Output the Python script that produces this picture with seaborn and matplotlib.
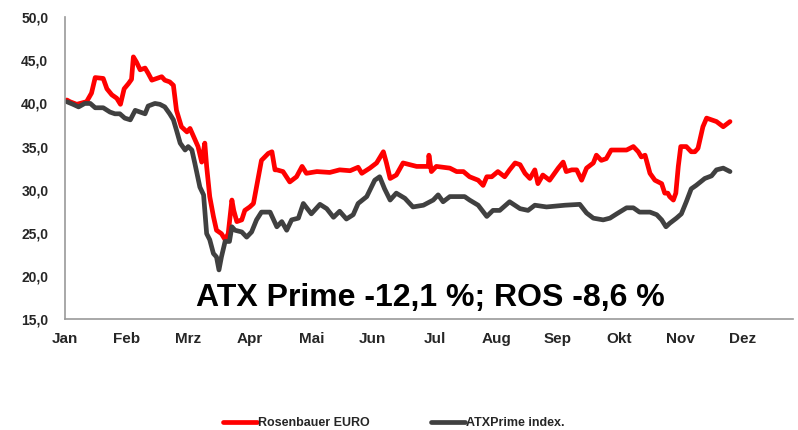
import pandas as pd
import seaborn as sns
import matplotlib.pyplot as plt
from matplotlib.ticker import FuncFormatter

# month labels (x positions are fractional months since 1 Jan)
months = ['Jan', 'Feb', 'Mrz', 'Apr', 'Mai', 'Jun', 'Jul', 'Aug', 'Sep', 'Okt', 'Nov', 'Dez']

# Rosenbauer EURO
ros_x = [0.03, 0.08, 0.19, 0.35, 0.43, 0.49, 0.62, 0.68, 0.76, 0.84, 0.90, 0.96,
         1.03, 1.08, 1.11, 1.16, 1.22, 1.30, 1.35, 1.41, 1.49, 1.57, 1.62, 1.70,
         1.76, 1.81, 1.89, 1.98, 2.03, 2.08, 2.16, 2.22, 2.27, 2.30, 2.35, 2.41,
         2.46, 2.54, 2.60, 2.65, 2.71, 2.74, 2.79, 2.87, 2.92, 3.00, 3.06, 3.14,
         3.19, 3.30, 3.36, 3.41, 3.44, 3.54, 3.65, 3.76, 3.85, 3.92, 4.09, 4.30,
         4.46, 4.63, 4.76, 4.82, 4.95, 5.06, 5.17, 5.22, 5.28, 5.38, 5.49, 5.71,
         5.90, 5.91, 5.95, 6.03, 6.25, 6.36, 6.47, 6.57, 6.71, 6.79, 6.85, 6.93,
         7.03, 7.14, 7.22, 7.31, 7.39, 7.47, 7.55, 7.63, 7.68, 7.76, 7.87, 8.01,
         8.09, 8.14, 8.23, 8.31, 8.39, 8.47, 8.58, 8.63, 8.71, 8.79, 8.87, 9.01,
         9.12, 9.23, 9.31, 9.36, 9.42, 9.50, 9.58, 9.69, 9.74, 9.79, 9.82, 9.88,
         9.92, 9.96, 10.00, 10.09, 10.17, 10.23, 10.28, 10.36, 10.42, 10.50, 10.58,
         10.69, 10.80]
ros_y = [40.4, 40.2, 39.9, 40.2, 41.2, 43.0, 42.9, 41.7, 41.0, 40.6, 39.9, 41.7,
         42.3, 42.8, 45.4, 44.8, 43.9, 44.1, 43.5, 42.7, 42.9, 43.1, 42.7, 42.5,
         42.1, 39.2, 37.3, 36.7, 37.1, 36.3, 35.0, 33.2, 35.4, 32.7, 29.2, 26.9,
         25.3, 24.9, 24.2, 24.9, 28.8, 27.6, 26.3, 26.5, 27.6, 28.0, 28.4, 31.5,
         33.4, 34.2, 34.4, 32.3, 32.3, 32.1, 30.9, 31.5, 32.7, 31.9, 32.1, 32.0,
         32.3, 32.2, 32.6, 31.9, 32.5, 33.1, 34.4, 33.1, 31.3, 31.7, 33.1, 32.7,
         32.7, 34.0, 32.1, 32.7, 32.5, 32.1, 32.1, 31.5, 31.1, 30.5, 31.5, 31.5,
         32.1, 31.5, 32.3, 33.1, 32.9, 31.9, 31.3, 32.3, 30.7, 31.7, 31.1, 32.5,
         33.2, 32.1, 32.3, 32.3, 31.1, 32.5, 33.1, 34.0, 33.4, 33.6, 34.6, 34.6,
         34.6, 35.0, 34.4, 33.8, 34.0, 31.9, 31.1, 30.7, 29.6, 29.6, 29.2, 28.8,
         29.6, 32.7, 35.0, 35.0, 34.4, 34.4, 34.8, 37.3, 38.3, 38.1, 37.9,
         37.3, 37.9]

# ATXPrime index
atx_x = [0.03, 0.13, 0.22, 0.32, 0.41, 0.49, 0.62, 0.73, 0.81, 0.89, 0.97, 1.06,
         1.14, 1.22, 1.30, 1.35, 1.46, 1.54, 1.62, 1.70, 1.76, 1.81, 1.87, 1.95,
         2.00, 2.06, 2.11, 2.19, 2.25, 2.30, 2.35, 2.41, 2.46, 2.50, 2.54, 2.60,
         2.67, 2.71, 2.76, 2.87, 2.95, 3.03, 3.11, 3.19, 3.33, 3.44, 3.52, 3.60,
         3.68, 3.79, 3.87, 4.00, 4.14, 4.25, 4.36, 4.46, 4.57, 4.68, 4.76, 4.90,
         5.03, 5.11, 5.19, 5.28, 5.38, 5.52, 5.65, 5.82, 5.98, 6.06, 6.14, 6.25,
         6.33, 6.49, 6.57, 6.71, 6.85, 6.95, 7.06, 7.22, 7.39, 7.52, 7.63, 7.82,
         8.12, 8.36, 8.47, 8.58, 8.74, 8.85, 8.96, 9.12, 9.23, 9.33, 9.50, 9.61,
         9.69, 9.76, 9.82, 9.93, 10.01, 10.09, 10.17, 10.25, 10.39, 10.50, 10.58,
         10.69, 10.80]
atx_y = [40.2, 39.9, 39.6, 40.0, 40.0, 39.5, 39.5, 39.0, 38.8, 38.8, 38.3, 38.1,
         39.2, 39.0, 38.8, 39.7, 40.0, 39.9, 39.6, 38.8, 38.1, 36.9, 35.4, 34.6,
         35.0, 34.6, 33.0, 30.3, 29.4, 24.9, 24.2, 22.6, 22.2, 20.7, 22.2, 24.0,
         24.0, 25.7, 25.3, 25.1, 24.5, 25.1, 26.5, 27.4, 27.4, 25.7, 26.3, 25.3,
         26.5, 26.7, 28.4, 27.2, 28.3, 27.8, 26.8, 27.5, 26.6, 27.1, 28.4, 29.2,
         31.1, 31.5, 30.1, 28.8, 29.6, 29.0, 28.0, 28.2, 28.8, 29.4, 28.6, 29.2,
         29.2, 29.2, 28.8, 28.2, 26.9, 27.6, 27.6, 28.6, 27.8, 27.6, 28.2, 28.0,
         28.2, 28.3, 27.3, 26.7, 26.5, 26.7, 27.2, 27.9, 27.9, 27.4, 27.4, 27.1,
         26.5, 25.7, 26.1, 26.7, 27.2, 28.6, 30.1, 30.5, 31.3, 31.6, 32.3,
         32.5, 32.1]

sns.set_style('white')
plt.rcParams['font.family'] = ['Liberation Sans', 'DejaVu Sans']
plt.rcParams['font.weight'] = 'bold'

fig = plt.figure(figsize=(7.98, 4.30), dpi=100)
ax = fig.add_axes([0.0815, 0.258, 0.912, 0.702])

sns.lineplot(x=ros_x, y=ros_y, ax=ax, color='#ff0000', lw=3.4,
             label='Rosenbauer EURO', legend=False)
sns.lineplot(x=atx_x, y=atx_y, ax=ax, color='#404040', lw=3.4,
             label='ATXPrime index.', legend=False)

ax.set_xlim(0, 11.82)
ax.set_ylim(15, 50)
ax.set_xticks(range(len(months)))
ax.set_xticklabels(months)
ax.set_yticks([15, 20, 25, 30, 35, 40, 45, 50])
ax.yaxis.set_major_formatter(FuncFormatter(lambda v, p: f'{v:.1f}'.replace('.', ',')))
ax.tick_params(axis='both', length=4, width=1, color='#999999', direction='out')
ax.tick_params(axis='y', labelsize=10, pad=8)
ax.tick_params(axis='x', labelsize=11, pad=5)
for lab in ax.get_xticklabels() + ax.get_yticklabels():
    lab.set_fontweight('bold')
sns.despine(ax=ax)
for s in ['left', 'bottom']:
    ax.spines[s].set_color('#999999')
    ax.spines[s].set_linewidth(1.2)

ax.text(5.93, 16.5, 'ATX Prime -12,1 %; ROS -8,6 %', ha='center', va='baseline',
        fontsize=23, fontweight='bold', color='black')

handles, labels = ax.get_legend_handles_labels()
fig.legend(handles, labels, loc='center', bbox_to_anchor=(0.494, 0.016), ncol=2,
           frameon=False, prop={'size': 9, 'weight': 'bold'}, handlelength=2.7,
           handletextpad=0.1, columnspacing=4.9)

fig.savefig('out.png', dpi=100)
